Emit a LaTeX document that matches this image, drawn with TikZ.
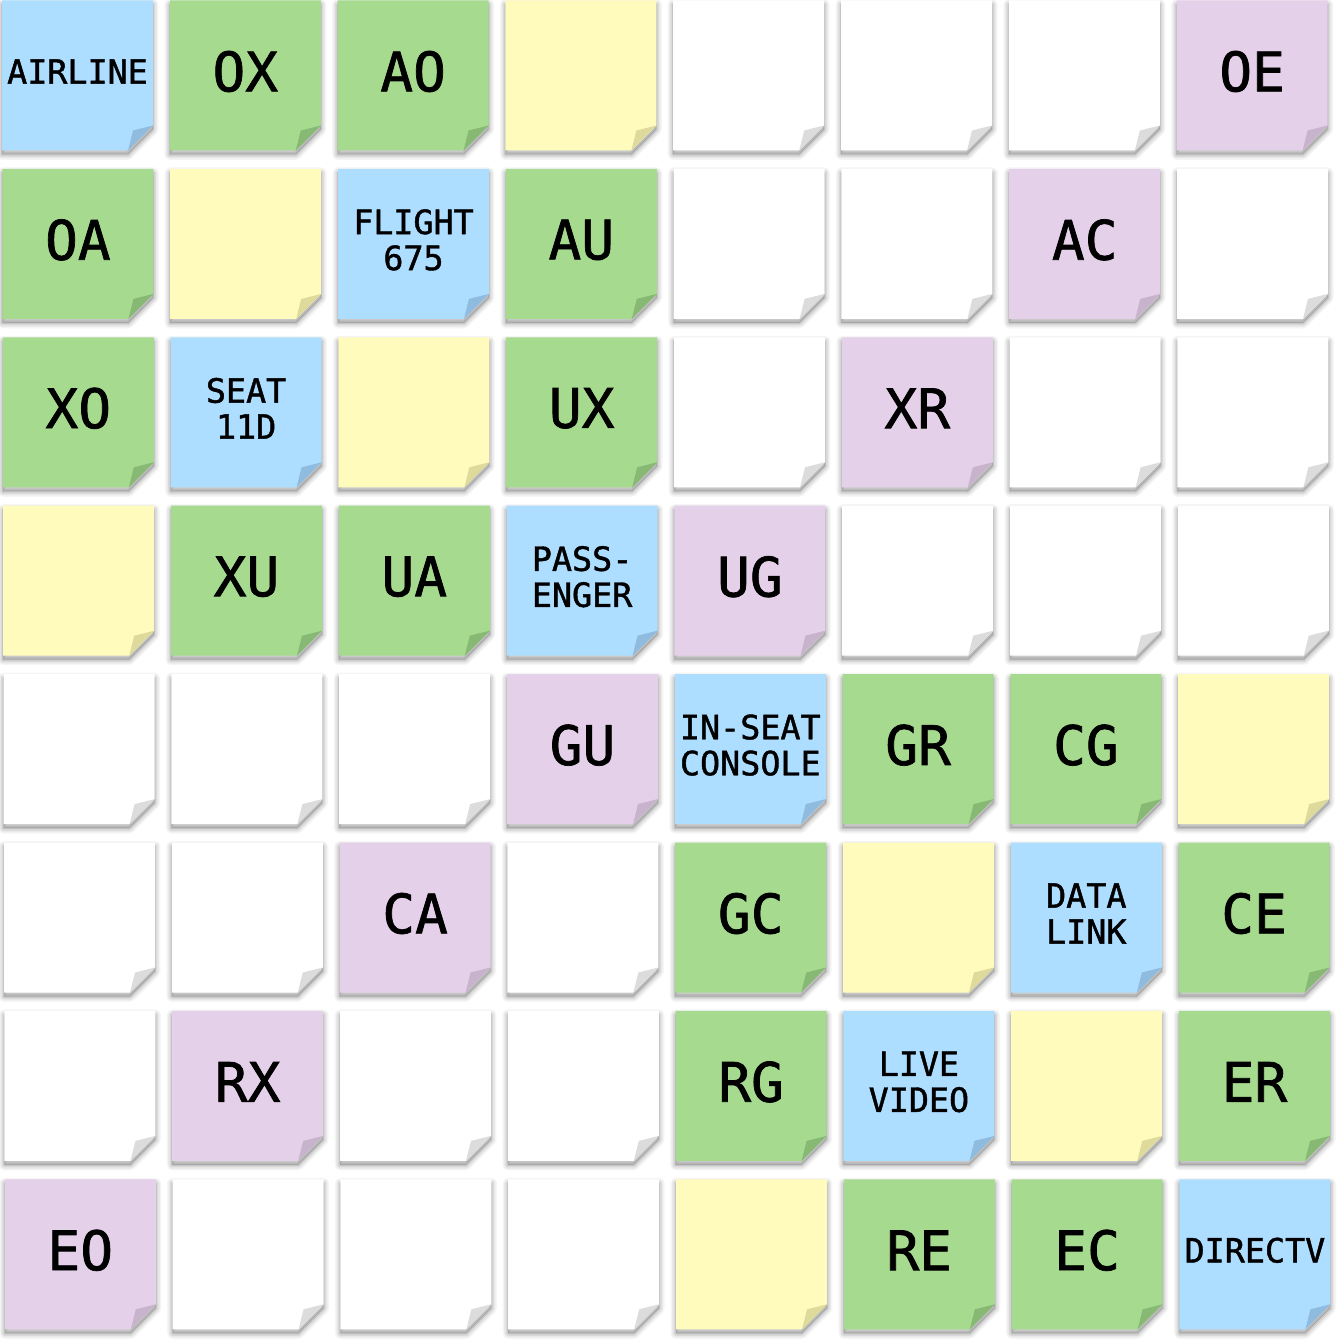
\documentclass[tikz,border=0pt]{standalone}
\usepackage{fontspec}
\usepackage{tikz}
\newfontfamily\notefont[FakeBold=1.3]{DejaVu Sans Mono}

\definecolor{bluepad}{HTML}{ADDDFF}
\definecolor{bluefold}{HTML}{8EBBDE}
\definecolor{greenpad}{HTML}{A6DA8F}
\definecolor{greenfold}{HTML}{87B874}
\definecolor{yellowpad}{HTML}{FFFBBC}
\definecolor{yellowfold}{HTML}{DDDA9B}
\definecolor{purplepad}{HTML}{E5D0EA}
\definecolor{purplefold}{HTML}{C8B3CC}
\definecolor{whitepad}{HTML}{FFFFFF}
\definecolor{whitefold}{HTML}{DCDCDC}

\tikzset{
  bigtext/.style={font=\notefont\fontsize{31}{33}\selectfont},
  smalltext/.style={font=\notefont\fontsize{19}{20.5}\selectfont, align=center},
  pad b/.style={fill=bluepad},   fold b/.style={fill=bluefold},   word b/.style={smalltext},
  pad g/.style={fill=greenpad},  fold g/.style={fill=greenfold},  word g/.style={bigtext},
  pad y/.style={fill=yellowpad}, fold y/.style={fill=yellowfold}, word y/.style={bigtext},
  pad p/.style={fill=purplepad}, fold p/.style={fill=purplefold}, word p/.style={bigtext},
  pad w/.style={fill=whitepad},  fold w/.style={fill=whitefold},  word w/.style={bigtext},
}

\begin{document}
\begin{tikzpicture}[x=0.02cm, y=-0.02cm]
    \useasboundingbox (0,0) rectangle (1335,1341);
    \foreach [count=\r from 0] \row in {
        {b/AIRLINE,g/OX,g/AO,y/,w/,w/,w/,p/OE},
        {g/OA,y/,b/{FLIGHT\\675},g/AU,w/,w/,p/AC,w/},
        {g/XO,b/{SEAT\\11D},y/,g/UX,w/,p/XR,w/,w/},
        {y/,g/XU,g/UA,b/{PASS-\\ENGER},p/UG,w/,w/,w/},
        {w/,w/,w/,p/GU,b/{IN-SEAT\\CONSOLE},g/GR,g/CG,y/},
        {w/,w/,p/CA,w/,g/GC,y/,b/{DATA\\LINK},g/CE},
        {w/,p/RX,w/,w/,g/RG,b/{LIVE\\VIDEO},y/,g/ER},
        {p/EO,w/,w/,w/,y/,g/RE,g/EC,b/DIRECTV}} {
      \foreach [count=\c from 0] \k/\t in \row {
        \pgfmathsetmacro\px{2+167.8*\c+0.4*\r}
        \pgfmathsetmacro\py{0.5+168.4*\r}
        \begin{scope}[shift={(\px,\py)}]
          % soft shadow
          \foreach \w/\o in {11/0.04,8/0.05,5/0.07,2/0.09}
            \draw[line width=\w*0.567pt, black, opacity=\o, line join=round]
              (0,4) -- (151,4) -- (151,129) -- (126,154) -- (0,154) -- cycle;
          \fill[black, opacity=0.14] (0,4) -- (151,4) -- (151,129) -- (126,154) -- (0,154) -- cycle;
          \fill[pad \k] (0,0) -- (151,0) -- (151,125) -- (126,150) -- (0,150) -- cycle;
          \fill[fold \k] (126,150) -- (151,125) -- (131,130) -- cycle;
          \node[word \k, inner sep=0pt] (note-\r-\c) at (75.5,71) {\t};
        \end{scope}
      }
    }
\end{tikzpicture}
\end{document}
